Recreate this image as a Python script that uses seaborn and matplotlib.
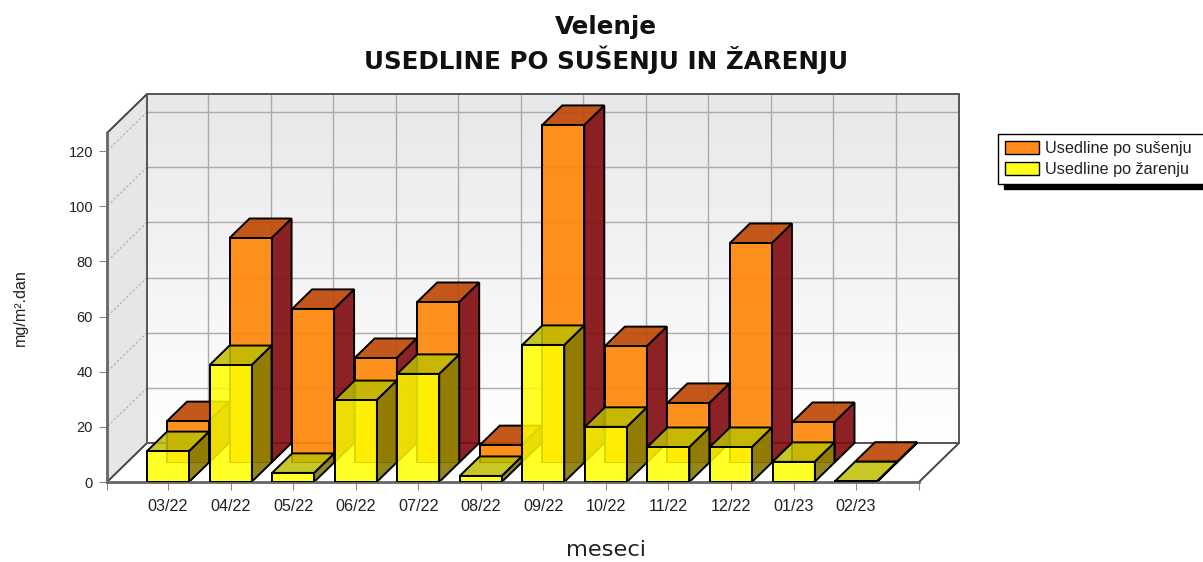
import numpy as np
import pandas as pd
import matplotlib
matplotlib.use("Agg")
import matplotlib.pyplot as plt
from matplotlib.colors import LinearSegmentedColormap
from matplotlib.patches import Patch
import seaborn as sns

months = ["03/22", "04/22", "05/22", "06/22", "07/22", "08/22", "09/22", "10/22", "11/22", "12/22", "01/23", "02/23"]
susenje = [15.0, 81.4, 55.7, 37.9, 58.2, 6.3, 122.4, 42.2, 21.6, 79.6, 14.7, 0.3]
zarenje = [11.2, 42.4, 3.3, 29.7, 39.2, 2.2, 49.7, 20.0, 12.7, 12.7, 7.3, 0.3]
y_ticks = [0, 20, 40, 60, 80, 100, 120]

W, H = 1203, 562
PX_X = 62.55            # pixels per category
PX_Y = 2.758            # pixels per unit
X0, X1, Y0, Y1 = 107, 919, 482, 133
XLIM = (-(168 - X0) / PX_X, (X1 - 168) / PX_X)
YLIM = (0, (Y0 - Y1) / PX_Y)
BAR_W = 42 / PX_X
DX, DY = 40 / PX_X, 39 / PX_Y   # full depth of the plot in data units
BX, BY = DX / 2, DY / 2         # depth of one bar

sns.set_style("white")
plt.rcParams["font.family"] = ["Liberation Sans", "DejaVu Sans"]
df = pd.DataFrame({"mesec": months, "susenje": susenje, "zarenje": zarenje})

fig = plt.figure(figsize=(W / 100, H / 100), dpi=100)


def layer(shift_x, shift_y):
    ax = fig.add_axes([(X0 + shift_x) / W, 1 - (Y0 - shift_y) / H, (X1 - X0) / W, (Y0 - Y1) / H])
    ax.patch.set_visible(False)
    return ax


# back wall, side wall and floor
wall = layer(40, 39)
cmap = LinearSegmentedColormap.from_list("wall", ["#e8e8e8", "#ffffff"])
wall.imshow(np.linspace(0, 1, 128).reshape(-1, 1), cmap=cmap, aspect="auto",
            extent=(XLIM[0], XLIM[1], YLIM[0], YLIM[1]), origin="upper", zorder=0)
wall.set_xlim(XLIM)
wall.set_ylim(YLIM)
wall.set_xticks(range(len(months)))
wall.set_yticks(y_ticks)
wall.tick_params(length=0, labelleft=False, labelbottom=False)
wall.grid(True, color="#ababab", lw=1.0)
wall.set_axisbelow(True)
for s in wall.spines.values():
    s.set_color("#555555")
    s.set_linewidth(1.4)
L = XLIM[0]
R = XLIM[1]
wall.fill([L, L - DX, L - DX, L], [YLIM[0], -DY, YLIM[1] - DY, YLIM[1]], facecolor="#e6e6e6",
          edgecolor="none", clip_on=False, zorder=0.2)
wall.plot([L, L - DX], [YLIM[1], YLIM[1] - DY], color="#444444", lw=1.4, clip_on=False)
wall.plot([L, L - DX], [0, -DY], color="#444444", lw=1.4, clip_on=False)
wall.plot([R, R - DX], [0, -DY], color="#444444", lw=1.4, clip_on=False)
for t in y_ticks:
    wall.plot([L, L - DX], [t, t - DY], color="#b5b5b5", lw=0.9, ls=(0, (2, 1.5)), clip_on=False, zorder=0.3)


def bars(ax, col, front, top, side):
    sns.barplot(data=df, x="mesec", y=col, ax=ax, width=BAR_W, saturation=1, color=front[:3], legend=False)
    ax.set_xlim(XLIM)
    ax.set_ylim(YLIM)
    for rect in ax.patches:
        rect.set_facecolor(front)
        rect.set_edgecolor("black")
        rect.set_linewidth(1.4)
        rect.set_zorder(3)
    for i, v in enumerate(df[col]):
        a, b = i - BAR_W / 2, i + BAR_W / 2
        ax.fill([b, b + BX, b + BX, b], [0, BY, v + BY, v], facecolor=side, edgecolor="black",
                lw=1.4, clip_on=False, zorder=2)
        ax.fill([a, b, b + BX, a + BX], [v, v, v + BY, v + BY], facecolor=top, edgecolor="black",
                lw=1.4, clip_on=False, zorder=2)


orange_ax = layer(20, 19.5)
bars(orange_ax, "susenje", (1.0, 0.53, 0.04, 0.92), (0.75, 0.29, 0.03, 0.92), (0.50, 0.04, 0.05, 0.9))
orange_ax.axis("off")

front_ax = layer(0, 0)
bars(front_ax, "zarenje", (1.0, 1.0, 0.0, 0.85), (0.75, 0.74, 0.0, 0.85), (0.53, 0.48, 0.0, 0.9))
front_ax.set_xlabel("")
front_ax.set_ylabel("")
front_ax.set_yticks(y_ticks)
front_ax.set_xticks(range(len(months)))
front_ax.set_xticklabels(months)
front_ax.set_xticks(list(XLIM), minor=True)
front_ax.tick_params(axis="both", which="both", length=6, width=0.8, color="#888888",
                     labelcolor="#222222", labelsize=10.5, left=True, bottom=True, pad=4)
front_ax.tick_params(axis="x", which="major", labelsize=11.6, pad=6)
for name in ("top", "right"):
    front_ax.spines[name].set_visible(False)
for name in ("left", "bottom"):
    front_ax.spines[name].set_color("#666666")
    front_ax.spines[name].set_linewidth(2.0)

fig.text(606 / W, 1 - 27 / H, "Velenje", ha="center", va="center", fontsize=17.7, fontweight="bold",
         family=["DejaVu Sans"], color="#111111")
fig.text(606 / W, 1 - 60 / H, "USEDLINE PO SUŠENJU IN ŽARENJU", ha="center", va="center", fontsize=17.7,
         fontweight="bold", family=["DejaVu Sans"], color="#111111")
fig.text(606 / W, 1 - 550 / H, "meseci", ha="center", va="center", fontsize=16.2, family=["DejaVu Sans"],
         color="#222222")
fig.text(20 / W, 1 - 308 / H, "mg/m².dan", ha="center", va="center", rotation=90, fontsize=11.6, color="#222222")

handles = [Patch(facecolor="#ff8c1a", edgecolor="black", lw=1.0),
           Patch(facecolor="#ffff1a", edgecolor="black", lw=1.0)]
leg = fig.legend(handles, ["Usedline po sušenju", "Usedline po žarenju"], loc="upper left",
                 bbox_to_anchor=(998 / W, 1 - 182 / H, 215 / W, 48 / H), bbox_transform=fig.transFigure,
                 mode="expand", borderaxespad=0, fancybox=False, framealpha=1, edgecolor="black",
                 fontsize=11.7, handlelength=2.1, handleheight=0.9, handletextpad=0.4,
                 labelspacing=0.33, borderpad=0.42, labelcolor="#222222",
                 shadow={"color": "black", "alpha": 1, "ox": 4, "oy": -4})
leg.get_frame().set_linewidth(1.0)

fig.savefig("out.png", dpi=100)
